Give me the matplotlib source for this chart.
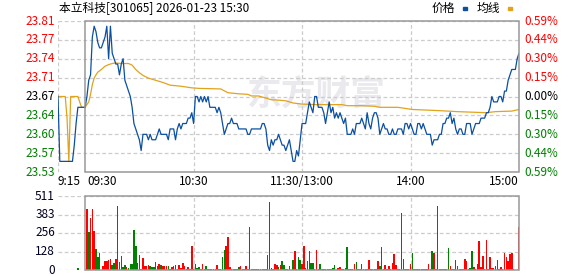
import matplotlib
matplotlib.use('Agg')
import matplotlib.pyplot as plt
from matplotlib.patches import Rectangle
import matplotlib.transforms as mtransforms

plt.rcParams['font.family'] = ['Noto Sans CJK SC', 'DejaVu Sans']

# ---------------- data ----------------
title = "本立科技[301065] 2026-01-23 15:30"
prev_close = 23.67
pct_max = 0.59

price_labels = ["23.81", "23.77", "23.74", "23.71", "23.67", "23.64", "23.60", "23.57", "23.53"]
pct_labels = ["0.59%", "0.44%", "0.30%", "0.15%", "0.00%", "0.15%", "0.30%", "0.44%", "0.59%"]
vol_labels = ["511", "383", "256", "128", "0"]
vol_max = 511
time_labels = ["9:15", "09:30", "10:30", "11:30/13:00", "14:00", "15:00"]
time_label_minutes = [-15, 0, 60, 120, 180, 240]

# call auction (minutes relative to 9:30)
pre_minutes = list(range(-15, 1))
pre_price = [23.67, 23.55, 23.55, 23.55, 23.55, 23.55, 23.55, 23.55, 23.55,
             23.58, 23.62, 23.65, 23.65, 23.65, 23.65, 23.65]
pre_avg = [23.67, 23.67, 23.67, 23.67, 23.67, 23.63, 23.55, 23.67, 23.67,
           23.67, 23.67, 23.67, 23.66, 23.65, 23.65, 23.65]
pre_vol_minute = [-4]
pre_vol = [16]
pre_vol_dir = [-1]

# continuous session, one value per minute (0 = 9:30 ... 240 = 15:00)
price = [
    23.65, 23.67, 23.70, 23.71, 23.78, 23.80, 23.79, 23.77, 23.76, 23.76,
    23.77, 23.78, 23.80, 23.74, 23.80, 23.75, 23.74, 23.73, 23.73, 23.71,
    23.73, 23.74, 23.70, 23.69, 23.68, 23.67, 23.65, 23.62, 23.61, 23.60,
    23.59, 23.57, 23.60, 23.60, 23.60, 23.59, 23.60, 23.59, 23.59, 23.59,
    23.60, 23.61, 23.60, 23.60, 23.60, 23.60, 23.59, 23.61, 23.61, 23.61,
    23.59, 23.61, 23.62, 23.61, 23.62, 23.62, 23.62, 23.63, 23.63, 23.64,
    23.62, 23.67, 23.67, 23.66, 23.67, 23.66, 23.67, 23.66, 23.67, 23.65,
    23.65, 23.65, 23.65, 23.64, 23.65, 23.64, 23.62, 23.60, 23.61, 23.62,
    23.62, 23.63, 23.62, 23.62, 23.62, 23.61, 23.61, 23.61, 23.61, 23.61,
    23.60, 23.60, 23.61, 23.61, 23.61, 23.61, 23.61, 23.61, 23.62, 23.62,
    23.61, 23.58, 23.57, 23.59, 23.58, 23.59, 23.59, 23.60, 23.59, 23.58,
    23.58, 23.57, 23.58, 23.59, 23.57, 23.55, 23.55, 23.57, 23.56, 23.59,
    23.62, 23.62, 23.62, 23.64, 23.66, 23.65, 23.64, 23.67, 23.67, 23.65,
    23.65, 23.65, 23.64, 23.62, 23.64, 23.66, 23.64, 23.65, 23.63, 23.64,
    23.63, 23.64, 23.63, 23.62, 23.63, 23.60, 23.60, 23.60, 23.61, 23.60,
    23.62, 23.62, 23.62, 23.63, 23.62, 23.61, 23.64, 23.62, 23.61, 23.63,
    23.64, 23.64, 23.63, 23.60, 23.61, 23.62, 23.61, 23.61, 23.60, 23.60,
    23.61, 23.60, 23.60, 23.61, 23.61, 23.61, 23.60, 23.62, 23.62, 23.61,
    23.62, 23.61, 23.60, 23.60, 23.62, 23.62, 23.61, 23.62, 23.61, 23.60,
    23.60, 23.60, 23.58, 23.59, 23.59, 23.59, 23.60, 23.60, 23.62, 23.62,
    23.63, 23.63, 23.64, 23.62, 23.63, 23.61, 23.60, 23.61, 23.61, 23.60,
    23.60, 23.62, 23.62, 23.62, 23.60, 23.61, 23.62, 23.62, 23.62, 23.63,
    23.63, 23.63, 23.64, 23.64, 23.65, 23.67, 23.66, 23.66, 23.66, 23.67,
    23.67, 23.66, 23.68, 23.68, 23.70, 23.71, 23.72, 23.72, 23.72, 23.74,
    23.75,
]

avg_minutes = [0, 2, 3, 4, 5, 6, 7, 9, 11, 13,
               15, 17, 20, 24, 26, 28, 30, 32, 35, 39,
               43, 47, 53, 59, 63, 75, 79, 85, 90, 92,
               96, 101, 103, 108, 111, 115, 120, 127, 142, 145,
               153, 160, 163, 173, 175, 181, 195, 206, 222, 227,
               236, 240]
avg_price = [23.650, 23.660, 23.674, 23.692, 23.704, 23.710, 23.715, 23.720, 23.726, 23.729,
             23.731, 23.732, 23.731, 23.731, 23.728, 23.720, 23.714, 23.709, 23.704, 23.700,
             23.696, 23.691, 23.689, 23.686, 23.685, 23.684, 23.677, 23.675, 23.674, 23.671,
             23.671, 23.666, 23.664, 23.663, 23.662, 23.658, 23.656, 23.655, 23.655, 23.653,
             23.653, 23.652, 23.650, 23.650, 23.649, 23.646, 23.644, 23.642, 23.640, 23.642,
             23.643, 23.646]

volume = [
    0, 421, 262, 359, 421, 269, 145, 92, 120, 0,
    28, 62, 64, 69, 76, 37, 51, 76, 444, 58,
    97, 23, 35, 18, 16, 41, 41, 276, 166, 51,
    104, 9, 83, 28, 28, 32, 28, 23, 18, 58,
    28, 41, 32, 28, 28, 28, 28, 7, 18, 28,
    35, 7, 35, 12, 51, 28, 9, 18, 7, 166,
    9, 41, 16, 23, 9, 41, 7, 28, 7, 7,
    7, 7, 7, 35, 7, 7, 90, 138, 166, 228,
    23, 7, 7, 7, 7, 23, 28, 7, 7, 28,
    7, 297, 7, 7, 7, 7, 7, 7, 7, 7,
    7, 104, 467, 16, 7, 41, 35, 18, 35, 62,
    32, 9, 7, 28, 0, 69, 131, 7, 92, 69,
    44, 168, 16, 64, 131, 48, 48, 7, 138, 7,
    41, 7, 7, 7, 7, 7, 7, 16, 35, 0,
    16, 21, 7, 7, 14, 159, 7, 7, 7, 41,
    55, 7, 7, 41, 7, 7, 7, 69, 7, 7,
    7, 7, 62, 28, 159, 7, 35, 7, 28, 7,
    48, 110, 35, 7, 7, 394, 76, 7, 7, 7,
    41, 117, 7, 7, 7, 7, 7, 7, 7, 7,
    41, 7, 131, 117, 7, 442, 7, 7, 7, 7,
    7, 152, 28, 7, 7, 69, 28, 7, 7, 7,
    76, 62, 7, 14, 131, 21, 7, 41, 200, 21,
    97, 7, 207, 7, 90, 14, 14, 28, 69, 7,
    21, 7, 117, 90, 62, 110, 117, 7, 0, 0,
    297,
]
# 1 = up (red), -1 = down (green)
vol_dir = [
    0, 1, -1, 1, 1, 1, -1, -1, -1, 0,
    1, 1, 1, 1, 1, -1, -1, 1, -1, 1,
    1, -1, -1, 1, -1, -1, -1, -1, -1, 1,
    1, -1, 1, 1, 1, 1, -1, -1, -1, 1,
    1, 1, -1, 1, 1, 1, -1, 1, 1, 1,
    -1, 1, 1, 1, 1, 1, 1, 1, -1, 1,
    1, -1, -1, -1, 1, 1, 1, -1, 1, -1,
    -1, -1, 1, 1, 1, 1, -1, -1, 1, 1,
    1, -1, -1, -1, -1, -1, 1, -1, -1, 1,
    1, -1, 1, 1, 1, 1, 1, 1, 1, 1,
    1, 1, -1, -1, 1, 1, 1, -1, 1, -1,
    -1, 1, -1, -1, 0, -1, 1, 1, -1, -1,
    1, 1, 1, 1, 1, -1, -1, -1, 1, 1,
    -1, 1, -1, -1, 1, 1, -1, -1, -1, 0,
    1, 1, -1, -1, 1, -1, 1, 1, 1, 1,
    -1, -1, 1, 1, -1, 1, 1, 1, -1, 1,
    1, 1, 1, -1, -1, 1, 1, -1, 1, -1,
    1, 1, 1, -1, 1, 1, -1, 1, 1, 1,
    1, -1, -1, 1, 1, 1, -1, -1, 1, -1,
    1, 1, -1, 1, -1, 1, 1, 1, 1, 1,
    1, -1, 1, 1, 1, -1, -1, -1, -1, 1,
    1, 1, -1, -1, -1, 1, 1, -1, 1, 1,
    1, 1, 1, 1, 1, 1, 1, -1, 1, 1,
    1, -1, 1, 1, 1, 1, 1, -1, 0, 0,
    1,
]
minutes = list(range(len(price)))

# ---------------- style ----------------
W, H = 578, 276
BLUE = '#0b4fa3'
ORANGE = '#e2a31c'
RED = '#ff0000'
GREEN = '#008000'
GRID = '#cccccc'
BOX = '#999999'
FS = 8.5

fig = plt.figure(figsize=(W / 100, H / 100), dpi=100)
ax = fig.add_axes([58 / W, 1 - 172 / H, 461 / W, 151 / H])
axv = fig.add_axes([58 / W, 1 - 270 / H, 461 / W, 74 / H])

ymax = prev_close * (1 + pct_max / 100)
ymin = prev_close * (1 - pct_max / 100)
n_lv = len(price_labels)
levels = [ymax - i * (ymax - ymin) / (n_lv - 1) for i in range(n_lv)]

for a in (ax, axv):
    a.set_xlim(-15, 240)
    a.set_xticks([])
    a.set_yticks([])
    for s in a.spines.values():
        s.set_visible(False)

ax.set_ylim(ymin, ymax)
axv.set_ylim(0, vol_max)

# grid
for lv in levels:
    ax.axhline(lv, color=GRID, lw=0.9, ls=(0, (3, 2)), zorder=1)
for m in (-15, 60, 120, 180):
    ax.axvline(m, color=GRID, lw=0.9, ls=(0, (3, 2)), zorder=1)
vlevels = [vol_max - i * vol_max / (len(vol_labels) - 1) for i in range(len(vol_labels))]
for lv in vlevels:
    axv.axhline(lv, color=GRID, lw=0.9, ls=(0, (3, 2)), zorder=1)
for m in (60, 120, 180):
    axv.axvline(m, color=GRID, lw=0.9, ls=(0, (3, 2)), zorder=1)

# boxes
ax.add_patch(Rectangle((0, ymin), 240, ymax - ymin, fill=False, edgecolor=BOX,
                       lw=1.1, zorder=5, clip_on=False))
axv.add_patch(Rectangle((0, 0), 240, vol_max, fill=False, edgecolor=BOX,
                        lw=1.1, zorder=5, clip_on=False))

# watermark
ax.text(128, prev_close + 0.005, "东方财富", fontsize=25, color='#e9e9ee', ha='center',
        va='center', fontweight='bold', zorder=0.5)

# lines
ax.plot(pre_minutes, pre_avg, color=ORANGE, lw=0.9, zorder=3)
ax.plot(pre_minutes, pre_price, color=BLUE, lw=0.9, zorder=4)
ax.plot(avg_minutes, avg_price, color=ORANGE, lw=0.9, zorder=3)
ax.plot(minutes, price, color=BLUE, lw=0.9, zorder=4)

# volume bars
bar_colors = [RED if d > 0 else GREEN for d in vol_dir]
axv.bar(minutes, volume, width=0.85, color=bar_colors, lw=0, zorder=3)
axv.bar(pre_vol_minute, pre_vol, width=0.85,
        color=[RED if d > 0 else GREEN for d in pre_vol_dir], lw=0, zorder=3)

# y labels
ytr = mtransforms.blended_transform_factory(ax.transAxes, ax.transData)
for i, (lv, pl, cl) in enumerate(zip(levels, price_labels, pct_labels)):
    c = RED if i < n_lv // 2 else ('#000000' if i == n_lv // 2 else GREEN)
    ax.text(-0.007, lv, pl, transform=ytr, ha='right', va='center', fontsize=FS, color=c)
    ax.text(1.011, lv, cl, transform=ytr, ha='left', va='center', fontsize=FS, color=c)

vtr = mtransforms.blended_transform_factory(axv.transAxes, axv.transData)
for lv, vl in zip(vlevels, vol_labels):
    axv.text(-0.007, lv, vl, transform=vtr, ha='right', va='center', fontsize=FS,
             color='#000022')

# x labels
xtr = mtransforms.blended_transform_factory(ax.transData, ax.transAxes)
for m, lab in zip(time_label_minutes, time_labels):
    if m == -15:
        ha, xm = 'left', m - 0.5
    elif m == 0:
        ha, xm = 'left', m + 1
    elif m == 240:
        ha, xm = 'right', m
    else:
        ha, xm = 'center', m
    ax.text(xm, -0.066, lab, transform=xtr, ha=ha, va='center', fontsize=FS, color='#000000')

# title and legend
fig.text(59 / W, 1 - 8 / H, title, ha='left', va='center', fontsize=FS, color='#000000')
fig.text(432 / W, 1 - 8 / H, "价格", ha='left', va='center', fontsize=FS, color='#000000')
fig.add_artist(Rectangle((463 / W, 1 - 9.5 / H), 4 / W, 2.5 / H, transform=fig.transFigure,
                         color=BLUE))
fig.text(477 / W, 1 - 8 / H, "均线", ha='left', va='center', fontsize=FS, color='#000000')
fig.add_artist(Rectangle((508 / W, 1 - 9.5 / H), 4 / W, 2.5 / H, transform=fig.transFigure,
                         color=ORANGE))

fig.savefig('out.png', dpi=100, facecolor='white')
